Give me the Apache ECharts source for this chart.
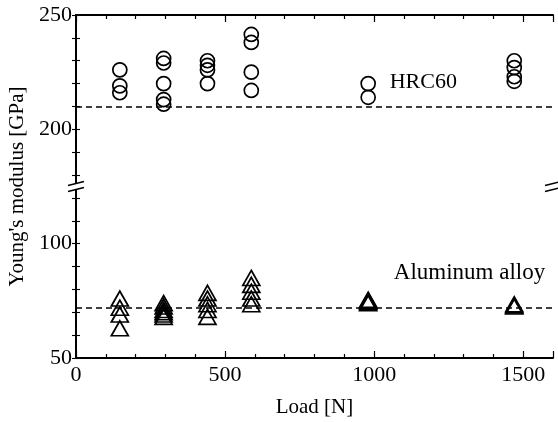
<!DOCTYPE html>
<html>
<head>
<meta charset="utf-8">
<script src="https://cdn.jsdelivr.net/npm/echarts@6.0.0/dist/echarts.min.js"></script>
<style>
  html, body { margin: 0; padding: 0; background: #fff; }
  #main { width: 558px; height: 422px; }
</style>
</head>
<body>
<div id="main"></div>
<script>
// loads in N (15, 30, 45, 60, 100, 150 kgf)
const loads = [147, 294, 441, 588, 980, 1470];
// Young's modulus readings per load [GPa]
const hrcValues = [
  [226, 219, 216],
  [231, 229, 220, 213, 211],
  [230, 228, 226, 220],
  [241.5, 238, 225, 217],
  [220, 214],
  [230, 227, 223, 221]
];
const alValues = [
  [76, 72, 69, 63],
  [74, 72.5, 71, 70, 69, 68],
  [78.5, 76, 73.5, 71, 68],
  [85, 82, 79, 76, 73.5],
  [75.5, 75, 74.5, 74],
  [73.5, 73, 72.5]
];
const hrcRef = 210;
const alRef = 72;
const yTicks = [50, 100, 200, 250];
const yAllTicks = [50, 60, 70, 80, 90, 100, 110, 120, 180, 190, 200, 210, 220, 230, 240, 250];
const xTicks = [0, 500, 1000, 1500];

const font = 'Liberation Serif';
const ink = '#000';

function toPoints(vals) {
  let pts = [];
  loads.forEach((x, i) => {
    vals[i].forEach(v => pts.push([x, v]));
  });
  return pts;
}

const chart = echarts.init(document.getElementById('main'));

const yBase = {
  type: 'value',
  min: 50,
  max: 250,
  interval: 50,
  breaks: [{ start: 125, end: 175, gap: 0 }],
  breakArea: { show: false },
  axisLine: { show: true, lineStyle: { color: ink, width: 2 } },
  axisTick: { show: true, inside: true, length: 4, customValues: yAllTicks, lineStyle: { color: ink, width: 1.1 } },
  splitLine: { show: false }
};

const xBase = {
  type: 'value',
  min: 0,
  max: 1600,
  interval: 500,
  axisLine: { show: true, onZero: false, lineStyle: { color: ink, width: 2 } },
  axisTick: { show: true, inside: true, length: 7, lineStyle: { color: ink, width: 1.2 } },
  minorTick: { show: true, splitNumber: 5, length: 4, lineStyle: { color: ink, width: 1.2 } },
  splitLine: { show: false },
  minorSplitLine: { show: false }
};

const option = {
  backgroundColor: '#fff',
  animation: false,
  grid: { left: 76, right: 5, top: 15, bottom: 64, containLabel: false, outerBoundsMode: 'none' },
  xAxis: [
    Object.assign({}, xBase, {
      position: 'bottom',
      name: 'Load [N]',
      nameLocation: 'middle',
      nameGap: 39,
      nameTextStyle: { fontFamily: font, fontSize: 21, color: ink },
      axisLabel: {
        show: true, margin: 6, fontFamily: font, fontSize: 22, color: ink,
        customValues: xTicks,
        formatter: v => String(v)
      }
    }),
    Object.assign({}, xBase, {
      position: 'top',
      axisLabel: { show: false }
    })
  ],
  yAxis: [
    Object.assign({}, yBase, {
      position: 'left',
      name: "Young's modulus [GPa]",
      nameLocation: 'middle',
      nameGap: 45,
      nameTextStyle: { fontFamily: font, fontSize: 21, color: ink },
      axisLabel: {
        show: true, margin: 4, fontFamily: font, fontSize: 22, color: ink,
        customValues: yTicks,
        hideOverlap: false,
        formatter: v => String(v)
      }
    }),
    // right frame: labels kept but blank so the ticks are drawn
    Object.assign({}, yBase, {
      position: 'right',
      axisLabel: {
        show: true, fontSize: 10, color: 'rgba(0,0,0,0)',
        customValues: yTicks,
        formatter: () => ''
      }
    })
  ],
  series: [
    {
      name: 'HRC60',
      type: 'scatter',
      symbol: 'circle',
      symbolSize: 14,
      itemStyle: { color: 'rgba(0,0,0,0)', borderColor: ink, borderWidth: 1.7, opacity: 1 },
      data: toPoints(hrcValues),
      markLine: {
        silent: true,
        symbol: ['none', 'none'],
        label: { show: false },
        lineStyle: { color: ink, type: [6, 4], width: 1.5 },
        data: [{ yAxis: hrcRef }]
      },
      markPoint: {
        silent: true,
        symbolSize: 0,
        label: { show: true, position: 'inside', fontFamily: font, fontSize: 22, color: ink, formatter: 'HRC60' },
        data: [{ coord: [1165, 220.5] }]
      }
    },
    {
      name: 'Aluminum alloy',
      type: 'scatter',
      symbol: 'triangle',
      symbolSize: [17, 15],
      itemStyle: { color: 'rgba(0,0,0,0)', borderColor: ink, borderWidth: 1.7, opacity: 1 },
      data: toPoints(alValues),
      markLine: {
        silent: true,
        symbol: ['none', 'none'],
        label: { show: false },
        lineStyle: { color: ink, type: [6, 4], width: 1.5 },
        data: [{ yAxis: alRef }]
      },
      markPoint: {
        silent: true,
        symbolSize: 0,
        label: { show: true, position: 'inside', fontFamily: font, fontSize: 23, color: ink, formatter: 'Aluminum alloy' },
        data: [{ coord: [1320, 87] }]
      }
    }
  ]
};

chart.setOption(option);

// small break marks on both vertical axes
let yb = chart.convertToPixel({ yAxisIndex: 0 }, 125);
if (!isFinite(yb)) yb = 187;
const xl = chart.convertToPixel({ xAxisIndex: 0 }, 0);
const xr = chart.convertToPixel({ xAxisIndex: 0 }, 1600);
const marks = [];
[xl, xr].forEach(x => {
  marks.push({ type: 'rect', shape: { x: x - 3, y: yb - 3, width: 6, height: 6 }, style: { fill: '#fff' }, z: 100 });
  marks.push({ type: 'line', shape: { x1: x - 8, y1: yb - 1, x2: x + 8, y2: yb - 5 }, style: { stroke: ink, lineWidth: 1.6 }, z: 101 });
  marks.push({ type: 'line', shape: { x1: x - 8, y1: yb + 5, x2: x + 8, y2: yb + 1 }, style: { stroke: ink, lineWidth: 1.6 }, z: 101 });
});
chart.setOption({ graphic: marks });
</script>
</body>
</html>
